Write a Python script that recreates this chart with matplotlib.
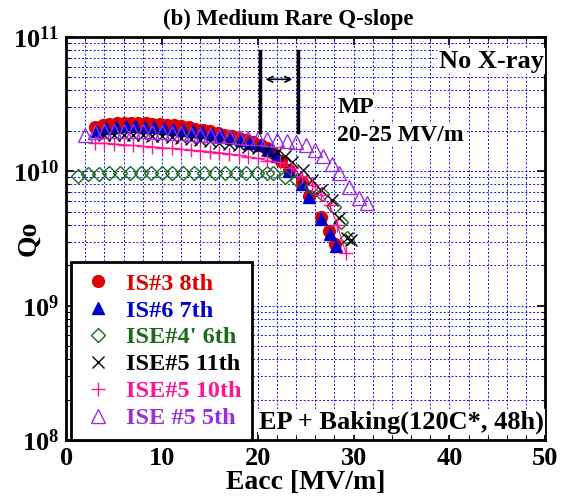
import numpy as np
import matplotlib
matplotlib.use("Agg")
import matplotlib.pyplot as plt
from matplotlib.ticker import MultipleLocator, LogLocator, FuncFormatter, NullFormatter
from matplotlib.lines import Line2D

plt.rcParams['font.family'] = ['Liberation Serif', 'DejaVu Serif']
plt.rcParams['font.weight'] = 'bold'
plt.rcParams['mathtext.fontset'] = 'custom'
plt.rcParams['mathtext.bf'] = 'Liberation Serif:bold'
plt.rcParams['mathtext.rm'] = 'Liberation Serif:bold'

# IS#3 8th (red filled circles)
is3_x = [3.0, 3.8, 4.5, 5.3, 6.0, 6.8, 7.5, 8.3, 9.0, 9.8, 10.5, 11.3, 12.0, 12.8, 13.5,
         14.3, 15.0, 15.8, 16.5, 17.3, 18.0, 18.8, 19.5, 20.3, 21.0, 21.6, 22.4, 23.3,
         24.6, 25.4, 26.6, 27.4, 28.1]
is3_q = [2.12, 2.2, 2.25, 2.28, 2.3, 2.3, 2.3, 2.28, 2.27, 2.25, 2.23, 2.2, 2.17, 2.13, 2.08,
         2.03, 1.98, 1.92, 1.87, 1.82, 1.76, 1.7, 1.64, 1.57, 1.5, 1.36, 1.2, 1.02,
         0.83, 0.66, 0.455, 0.36, 0.29]

# IS#6 7th (blue filled triangles)
is6_x = [3.2, 4.2, 5.2, 6.2, 7.2, 8.2, 9.2, 10.2, 11.2, 12.2, 13.2, 14.2, 15.2, 16.2, 17.2,
         18.2, 19.2, 20.2, 21.2, 22.0, 23.3, 24.6, 25.4, 26.6, 27.5, 28.2]
is6_q = [2.0, 2.1, 2.15, 2.17, 2.17, 2.15, 2.13, 2.1, 2.07, 2.03, 2.0, 1.95, 1.9, 1.85, 1.78,
         1.7, 1.63, 1.56, 1.45, 1.3, 1.0, 0.8, 0.64, 0.44, 0.34, 0.28]

# ISE#4' 6th (green open diamonds)
ise4_x = [1.2, 2.3, 3.4, 4.5, 5.6, 6.7, 7.8, 8.9, 10.0, 11.1, 12.2, 13.3, 14.4, 15.5, 16.6,
          17.7, 18.8, 19.9, 21.0, 21.6, 22.8, 24.1, 25.6, 26.7, 28.0, 28.7, 29.3]
ise4_q = [0.93, 0.95, 0.96, 0.97, 0.97, 0.97, 0.97, 0.97, 0.97, 0.97, 0.98, 0.98, 0.98, 0.98, 0.98,
          0.98, 0.98, 0.98, 0.98, 0.98, 0.9, 0.86, 0.76, 0.68, 0.54, 0.42, 0.32]

# ISE#5 11th (black crosses)
ise5a_x = [4.0, 5.0, 6.0, 7.0, 8.0, 9.0, 10.0, 11.0, 12.0, 13.0, 14.0, 15.0, 16.0, 17.0, 18.0,
           19.0, 20.0, 21.0, 22.0, 22.8, 23.6, 24.7, 25.7, 26.6, 27.7, 28.5, 29.3, 29.7]
ise5a_q = [1.85, 1.88, 1.88, 1.87, 1.86, 1.84, 1.82, 1.8, 1.77, 1.74, 1.7, 1.67, 1.63, 1.6, 1.57,
           1.53, 1.5, 1.45, 1.4, 1.31, 1.17, 1.02, 0.86, 0.72, 0.61, 0.45, 0.32, 0.31]

# ISE#5 10th (pink plus)
ise5b_x = [3.0, 4.0, 5.0, 6.0, 7.0, 8.0, 9.0, 10.0, 11.0, 12.0, 13.0, 14.0, 15.0, 16.0, 17.0,
           18.0, 19.0, 20.0, 21.0, 22.3, 23.5, 24.6, 25.7, 26.6, 27.5, 28.3, 29.2]
ise5b_q = [1.62, 1.62, 1.6, 1.58, 1.56, 1.54, 1.52, 1.5, 1.48, 1.46, 1.44, 1.42, 1.4, 1.38, 1.35,
           1.32, 1.28, 1.25, 1.2, 1.17, 1.05, 0.93, 0.79, 0.67, 0.56, 0.40, 0.245]

# ISE #5 5th (purple open triangles)
ise5c_x = [2.0, 3.0, 4.0, 5.0, 6.0, 7.0, 8.0, 9.0, 10.0, 11.0, 12.0, 13.0, 14.0, 15.0, 16.0,
           17.0, 18.0, 19.0, 20.0, 21.0, 22.0, 23.0, 24.0, 25.0, 26.0, 26.8, 27.7, 28.5,
           29.5, 30.6, 31.4]
ise5c_q = [1.86, 1.95, 1.98, 2.0, 2.0, 2.0, 1.98, 1.97, 1.95, 1.93, 1.92, 1.9, 1.88, 1.86, 1.84,
           1.82, 1.8, 1.78, 1.76, 1.74, 1.72, 1.68, 1.64, 1.58, 1.45, 1.3, 1.13, 0.98,
           0.76, 0.63, 0.58]

fig = plt.figure(figsize=(5.65, 5.0), dpi=100)
ax = fig.add_axes([0.117, 0.12, 0.848, 0.806])

ax.set_xlim(0, 50)
ax.set_yscale('log')
ax.set_ylim(1e8, 1e11)

ax.xaxis.set_major_locator(MultipleLocator(10))
ax.xaxis.set_minor_locator(MultipleLocator(2))
ax.yaxis.set_major_locator(LogLocator(base=10))
ax.yaxis.set_minor_locator(LogLocator(base=10, subs=np.arange(2, 10)))
ax.yaxis.set_minor_formatter(NullFormatter())
ax.yaxis.set_major_formatter(FuncFormatter(lambda v, p: r'$\mathbf{10^{%d}}$' % round(np.log10(v))))

ax.grid(True, which='both', color='#1010ee', linestyle=(0, (2, 2)), linewidth=0.7)
ax.set_axisbelow(True)
ax.tick_params(which='both', direction='in', top=True, right=True, labelsize=19)
ax.tick_params(which='major', length=6, width=1.2, pad=5)
ax.tick_params(which='minor', length=3, width=0.8)
for s in ax.spines.values():
    s.set_linewidth(2)

e10 = 1e10
ax.plot(is3_x, np.array(is3_q) * e10, 'o', color='#e00000', ms=8.5, ls='none')
ax.plot(is6_x, np.array(is6_q) * e10, '^', color='#0000cc', ms=8, ls='none')
ax.plot(ise4_x, np.array(ise4_q) * e10, 'D', mfc='none', mec='#1a6b1a', ms=7, mew=1.0, ls='none')
ax.plot(ise5a_x, np.array(ise5a_q) * e10, 'x', color='black', ms=9, mew=1.0, ls='none')
ax.plot(ise5b_x, np.array(ise5b_q) * e10, '+', color='#ff1493', ms=10, mew=1.0, ls='-', lw=0.8)
ax.plot(ise5c_x, np.array(ise5c_q) * e10, '^', mfc='none', mec='#9b30d9', ms=10, mew=1.0, ls='none')

# multipacting band
ax.plot([20.2, 20.2], [1.95e10, 7.8e10], color='black', lw=2.5)
ax.plot([24.2, 24.2], [1.95e10, 7.8e10], color='black', lw=2.5)
ax.annotate('', xy=(20.5, 4.84e10), xytext=(23.9, 4.84e10),
            arrowprops=dict(arrowstyle='<->', color='black', lw=1.2))

wbox = dict(facecolor='white', edgecolor='none', pad=1)
ax.text(28.3, 3.0e10, 'MP', fontsize=17, fontweight='bold', va='center', ha='left', bbox=wbox)
ax.text(28.3, 1.85e10, '20-25 MV/m', fontsize=17, fontweight='bold', va='center', ha='left', bbox=wbox)
ax.text(0.997, 0.94, 'No X-ray', transform=ax.transAxes, fontsize=19, fontweight='bold',
        ha='right', va='center', bbox=wbox)
ax.text(0.997, 0.045, 'EP + Baking(120C*, 48h)', transform=ax.transAxes, fontsize=19,
        fontweight='bold', ha='right', va='center', bbox=wbox)

fig.text(0.51, 0.962, '(b) Medium Rare Q-slope', fontsize=16.5, fontweight='bold',
         ha='center', va='center')
ax.set_xlabel('Eacc [MV/m]', fontsize=20, fontweight='bold', labelpad=0)
ax.set_ylabel('Qo', fontsize=20, fontweight='bold')
ax.yaxis.set_label_coords(-0.052, 0.5)

labels = ['IS#3 8th', 'IS#6 7th', "ISE#4' 6th", 'ISE#5 11th', 'ISE#5 10th', 'ISE #5 5th']
colors = ['#e00000', '#0000cc', '#1a6b1a', 'black', '#ff1493', '#9b30d9']
handles = [
    Line2D([], [], marker='o', color=colors[0], ms=8.5, ls='none'),
    Line2D([], [], marker='^', color=colors[1], ms=8, ls='none'),
    Line2D([], [], marker='D', mfc='none', mec=colors[2], ms=7, mew=1.0, ls='none'),
    Line2D([], [], marker='x', color=colors[3], ms=9, mew=1.0, ls='none'),
    Line2D([], [], marker='+', color=colors[4], ms=10, mew=1.0, ls='none'),
    Line2D([], [], marker='^', mfc='none', mec=colors[5], ms=10, mew=1.0, ls='none'),
]
leg = ax.legend(handles, labels, loc='lower left', bbox_to_anchor=(0.0, -0.012), fontsize=17.5,
                frameon=True, fancybox=False, edgecolor='black', framealpha=1, handlelength=1.3,
                handletextpad=0.5, labelspacing=0.2, borderpad=0.45, borderaxespad=0.2)
leg.get_frame().set_linewidth(2)
leg.set_zorder(10)
for t, c in zip(leg.get_texts(), colors):
    t.set_color(c)
    t.set_fontweight('bold')

fig.savefig('out.png', dpi=100)
